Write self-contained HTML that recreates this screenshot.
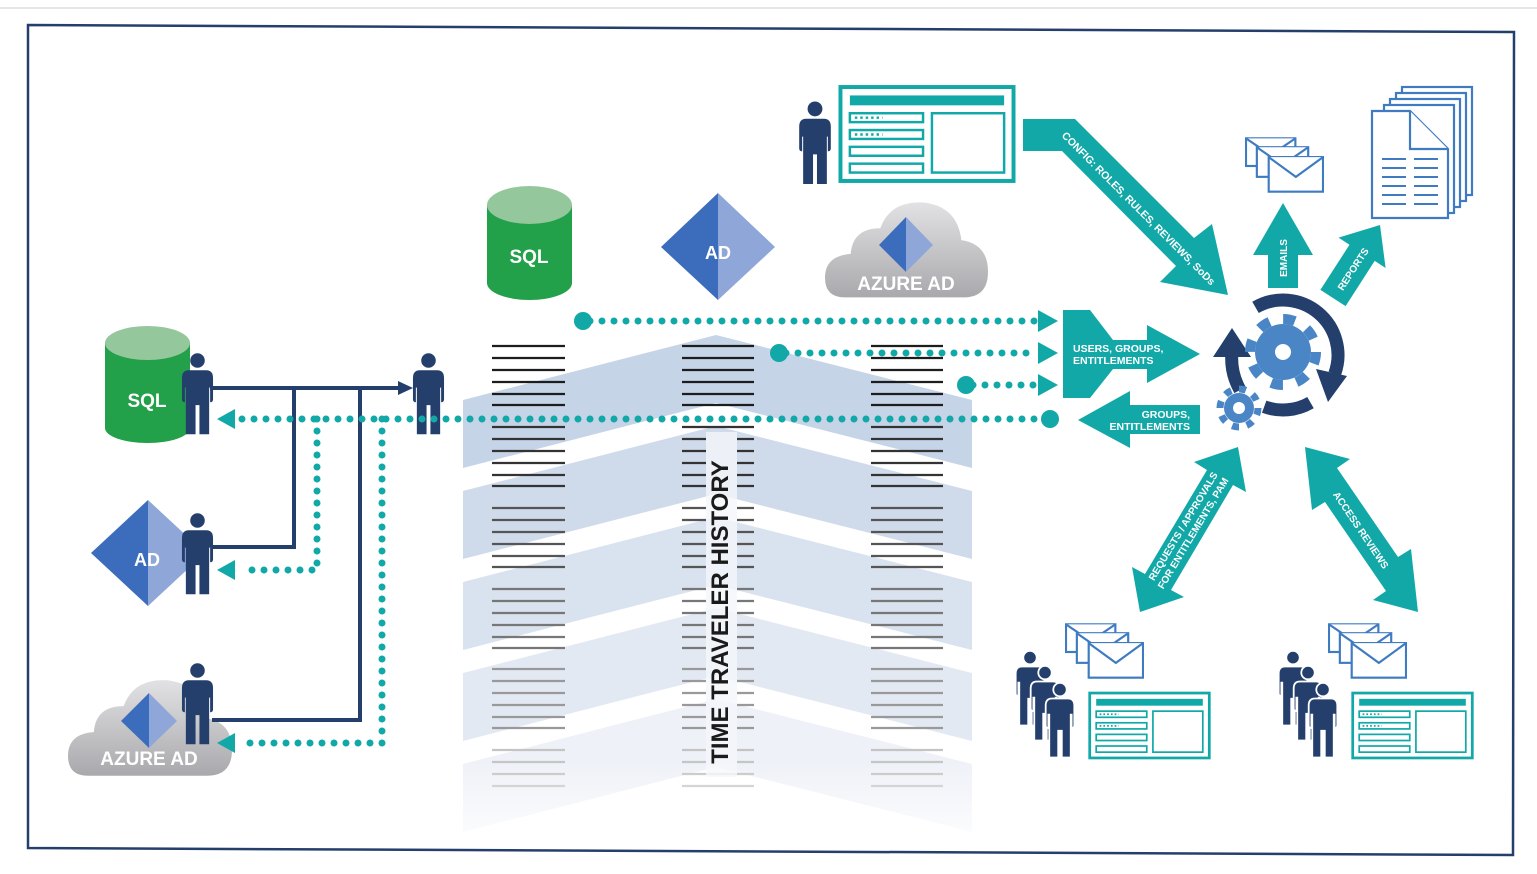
<!DOCTYPE html>
<html><head><meta charset="utf-8"><style>
html,body{margin:0;padding:0;background:#fff;}
svg{display:block;font-family:"Liberation Sans",sans-serif;}
</style></head><body>
<svg width="1537" height="874" viewBox="0 0 1537 874" xmlns="http://www.w3.org/2000/svg">
<defs>
<linearGradient id="cg" x1="0" y1="0" x2="0" y2="1"><stop offset="0" stop-color="#e2e2e4"/><stop offset="1" stop-color="#a9a9ad"/></linearGradient>
<linearGradient id="fade" x1="0" y1="0" x2="0" y2="1"><stop offset="0" stop-color="#fff" stop-opacity="0"/><stop offset="1" stop-color="#fff" stop-opacity="0.85"/></linearGradient>
<symbol id="person" viewBox="0 0 34 84">
<circle cx="17" cy="8" r="7.5" fill="#253f6d"/>
<path d="M8 18 H26 Q33 18 33 26 V48 Q33 51 30 51 V36 H29 V84 H19 V54 H15 V84 H5 V36 H4 V51 Q1 51 1 48 V26 Q1 18 8 18 Z" fill="#253f6d"/>
</symbol>
<symbol id="personw" viewBox="-2 -2 38 88">
<circle cx="17" cy="8" r="7.5" fill="#253f6d" stroke="#fff" stroke-width="2"/>
<path d="M8 18 H26 Q33 18 33 26 V48 Q33 51 30 51 V36 H29 V84 H19 V54 H15 V84 H5 V36 H4 V51 Q1 51 1 48 V26 Q1 18 8 18 Z" fill="#253f6d" stroke="#fff" stroke-width="2"/>
</symbol>
<symbol id="form" viewBox="0 0 180 100">
<rect x="2.5" y="2.5" width="175" height="95" fill="#fff" stroke="#12a8a8" stroke-width="4"/>
<rect x="12" y="11" width="156" height="10" fill="#12a8a8"/>
<g fill="none" stroke="#12a8a8" stroke-width="2.5">
<rect x="12" y="29" width="74" height="9"/><rect x="12" y="46" width="74" height="9"/><rect x="12" y="63" width="74" height="9"/><rect x="12" y="80" width="74" height="9"/>
<rect x="95" y="29" width="73" height="60"/></g>
<g stroke="#12a8a8" stroke-width="2.5" stroke-dasharray="2.5 3"><line x1="17" y1="33.5" x2="45" y2="33.5"/><line x1="17" y1="50.5" x2="45" y2="50.5"/></g>
</symbol>
<symbol id="env" viewBox="0 0 80 56">
<g fill="#fff" stroke="#3f7bc1" stroke-width="2.2">
<rect x="1" y="1" width="50" height="28"/><path d="M1 1 L26 18 L51 1"/>
<rect x="12" y="10" width="52" height="30"/><path d="M12 10 L38 28 L64 10"/>
<rect x="24" y="20" width="55" height="35"/><path d="M24 20 L51.5 40 L79 20"/>
</g></symbol>
<symbol id="cloud" viewBox="0 0 165 100">
<path d="M20 100 Q0 100 0 80 Q0 58 26 56 Q28 30 56 30 Q66 2 100 4 Q134 8 138 42 Q165 46 165 74 Q165 100 140 100 Z" fill="url(#cg)"/>
</symbol>
</defs>

<line x1="0" y1="8" x2="1537" y2="8" stroke="#ddd" stroke-width="1.5"/>
<path d="M28 25 L1514 32 L1513 855 L28 848 Z" fill="#fff" stroke="#253f6d" stroke-width="2.5"/>

<g>
<path d="M463 400 L716 335 L972 400 L972 468 L716 403 L463 468 Z" fill="#c6d4e8"/>
<path d="M463 491 L716 426 L972 491 L972 559 L716 494 L463 559 Z" fill="#cfdbeb"/>
<path d="M463 582 L716 517 L972 582 L972 650 L716 585 L463 650 Z" fill="#d9e2ef"/>
<path d="M463 673 L716 608 L972 673 L972 741 L716 676 L463 741 Z" fill="#e3e9f3"/>
<path d="M463 764 L716 699 L972 764 L972 832 L716 767 L463 832 Z" fill="#eef1f7"/>
</g>
<g stroke-width="2.2">
<g stroke="#1d1d1d"><path d="M492 346H565M492 358H565M492 370H565M492 382H565M492 394H565M492 405H565M682 346H754M682 358H754M682 370H754M682 382H754M682 394H754M682 405H754M871 346H943M871 358H943M871 370H943M871 382H943M871 394H943M871 405H943"/></g>
<g stroke="#333"><path d="M492 427H565M492 439H565M492 451H565M492 463H565M492 475H565M492 486H565M682 427H754M682 439H706M737 439H754M682 451H706M737 451H754M682 463H706M737 463H754M682 475H706M737 475H754M682 486H706M737 486H754M871 427H943M871 439H943M871 451H943M871 463H943M871 475H943M871 486H943"/></g>
<g stroke="#555"><path d="M492 508H565M492 520H565M492 532H565M492 544H565M492 556H565M492 567H565M682 508H706M737 508H754M682 520H706M737 520H754M682 532H706M737 532H754M682 544H706M737 544H754M682 556H706M737 556H754M682 567H706M737 567H754M871 508H943M871 520H943M871 532H943M871 544H943M871 556H943M871 567H943"/></g>
<g stroke="#777"><path d="M492 589H565M492 601H565M492 613H565M492 625H565M492 637H565M492 648H565M682 589H706M737 589H754M682 601H706M737 601H754M682 613H706M737 613H754M682 625H706M737 625H754M682 637H706M737 637H754M682 648H706M737 648H754M871 589H943M871 601H943M871 613H943M871 625H943M871 637H943M871 648H943"/></g>
<g stroke="#999"><path d="M492 669H565M492 681H565M492 693H565M492 705H565M492 717H565M492 728H565M682 669H706M737 669H754M682 681H706M737 681H754M682 693H706M737 693H754M682 705H706M737 705H754M682 717H706M737 717H754M682 728H706M737 728H754M871 669H943M871 681H943M871 693H943M871 705H943M871 717H943M871 728H943"/></g>
<g stroke="#c4c4c4"><path d="M492 750H565M492 762H565M492 774H565M492 786H565M682 750H706M737 750H754M682 762H706M737 762H754M682 774H754M682 786H754M871 750H943M871 762H943M871 774H943M871 786H943"/></g>
</g>
<rect x="706" y="432" width="31" height="345" fill="#f4f6fa" opacity="0.8"/>
<rect x="460" y="760" width="520" height="80" fill="url(#fade)"/>
<text transform="translate(728,612) rotate(-90)" text-anchor="middle" font-size="24" font-weight="bold" fill="#1a1a1a">TIME TRAVELER HISTORY</text>

<rect x="487" y="205" width="85" height="78" fill="#22a04a"/>
<ellipse cx="529.5" cy="283" rx="42.5" ry="17" fill="#22a04a"/>
<ellipse cx="529.5" cy="205" rx="42.5" ry="19" fill="#94c79b"/>
<text x="529" y="263" text-anchor="middle" font-size="19" font-weight="bold" fill="#fff">SQL</text>
<path d="M718 193 L661 247 L718 300 Z" fill="#3c6dbc"/><path d="M718 193 L775 247 L718 300 Z" fill="#8fa6d8"/>
<text x="718" y="259" text-anchor="middle" font-size="18" font-weight="bold" fill="#fff">AD</text>
<use href="#cloud" x="825" y="198" width="163" height="100"/>
<path d="M906 217 L879 245 L906 272 Z" fill="#3c6dbc"/><path d="M906 217 L933 245 L906 272 Z" fill="#8fa6d8"/>
<text x="906" y="290" text-anchor="middle" font-size="19" font-weight="bold" fill="#fff">AZURE AD</text>

<rect x="105" y="342" width="85" height="86" fill="#22a04a"/>
<ellipse cx="147.5" cy="428" rx="42.5" ry="15" fill="#22a04a"/>
<ellipse cx="147.5" cy="343" rx="42.5" ry="17" fill="#94c79b"/>
<text x="147" y="407" text-anchor="middle" font-size="19" font-weight="bold" fill="#fff">SQL</text>
<path d="M148 500 L91 553 L148 606 Z" fill="#3c6dbc"/><path d="M148 500 L205 553 L148 606 Z" fill="#8fa6d8"/>
<text x="147" y="566" text-anchor="middle" font-size="18" font-weight="bold" fill="#fff">AD</text>
<use href="#cloud" x="68" y="676" width="164" height="100"/>
<path d="M149 693 L121 721 L149 748 Z" fill="#3c6dbc"/><path d="M149 693 L177 721 L149 748 Z" fill="#8fa6d8"/>
<text x="149" y="765" text-anchor="middle" font-size="19" font-weight="bold" fill="#fff">AZURE AD</text>

<g stroke="#253f6d" stroke-width="4" fill="none">
<path d="M210 388 H400"/><path d="M294 388 V547 H212"/><path d="M360 388 V720 H212"/>
</g>
<path d="M398 381 L413 388 L398 395 Z" fill="#253f6d"/>
<use href="#person" x="181" y="352" width="33" height="83"/>
<use href="#person" x="181" y="512" width="33" height="83"/>
<use href="#person" x="181" y="662" width="33" height="83"/>
<use href="#person" x="412" y="352" width="33" height="83"/>

<g stroke="#12a8a8" stroke-width="7" stroke-linecap="round" stroke-dasharray="0 12" fill="none">
<path d="M1046 419 H240"/><path d="M317 419 V570 H240"/><path d="M382 419 V743 H240"/>
<path d="M590 321 H1036"/><path d="M786 353 H1036"/><path d="M973 385 H1036"/>
</g>
<g fill="#12a8a8">
<circle cx="1050" cy="419" r="9"/><circle cx="583" cy="321" r="9"/><circle cx="779" cy="353" r="9"/><circle cx="966" cy="385" r="9"/>
<path d="M217 419 L235 409 L235 429 Z"/><path d="M217 570 L235 560 L235 580 Z"/><path d="M217 743 L235 733 L235 753 Z"/>
<path d="M1038 310 L1058 321 L1038 332 Z"/><path d="M1038 342 L1058 353 L1038 364 Z"/><path d="M1038 374 L1058 385 L1038 396 Z"/>
<path d="M1063 310 L1090 310 L1113 340 L1147 340 L1147 325 L1200 354 L1147 383 L1147 369 L1113 369 L1090 398 L1063 398 Z"/>
<path d="M1200 405 L1200 434 L1130 434 L1130 448 L1078 420 L1130 391 L1130 405 Z"/>
<path d="M1023 119 L1075 119 L1194 238 L1212 224 L1228 295 L1160 282 L1176 266 L1062 151 L1023 151 Z"/>
<path d="M1268 288 L1268 255 L1253 255 L1283 203 L1313 255 L1298 255 L1298 288 Z"/>
<path d="M1320.4 289.9 L1349.5 244.7 L1338.5 237.6 L1380 225 L1385.6 268 L1374.7 260.9 L1345.6 306.1 Z"/>
<path d="M1238 447 L1246 492 L1233 485 L1171 590 L1184 597 L1140 612 L1132 567 L1145 574 L1207 470 L1194 462 Z"/>
<path d="M1305 447 L1350 459 L1337 468 L1398 557 L1411 549 L1418 612 L1373 600 L1386 591 L1325 502 L1312 510 Z"/>
</g>
<g fill="#fff" font-weight="bold">
<text x="1073" y="352" font-size="10.5">USERS, GROUPS,</text>
<text x="1073" y="364" font-size="10.5">ENTITLEMENTS</text>
<text x="1190" y="418" font-size="10.5" text-anchor="end">GROUPS,</text>
<text x="1190" y="430" font-size="10.5" text-anchor="end">ENTITLEMENTS</text>
<text transform="translate(1136,211) rotate(45)" font-size="10.5" text-anchor="middle">CONFIG: ROLES, RULES, REVIEWS, SoDs</text>
<text transform="translate(1287,258) rotate(-90)" font-size="10" text-anchor="middle">EMAILS</text>
<text transform="translate(1356,271) rotate(-57)" font-size="10" text-anchor="middle">REPORTS</text>
<text transform="translate(1186,528) rotate(-59)" font-size="10" text-anchor="middle">REQUESTS / APPROVALS</text>
<text transform="translate(1196,535) rotate(-59)" font-size="10" text-anchor="middle">FOR ENTITLEMENTS, PAM</text>
<text transform="translate(1358,532) rotate(56)" font-size="10" text-anchor="middle">ACCESS REVIEWS</text>
</g>

<g fill="none" stroke="#253f6d" stroke-width="13">
<path d="M1255.5 307.4 A55 55 0 0 1 1334.7 373.8"/>
<path d="M1310.5 402.6 A55 55 0 0 1 1264.2 406.7"/>
<path d="M1240 390 Q1230 372 1232 352"/>
</g>
<path d="M1347 376 L1328 402 L1316 369 Z" fill="#253f6d"/>
<path d="M1213 357 L1232 328 L1251 357 Z" fill="#253f6d"/>
<circle cx="1283" cy="352" r="28" fill="#4a86c5"/>
<circle cx="1283" cy="352" r="33" fill="none" stroke="#4a86c5" stroke-width="10" stroke-dasharray="12 13.9"/>
<circle cx="1283" cy="352" r="8" fill="#fff"/>
<circle cx="1239" cy="408" r="15" fill="#4a86c5"/>
<circle cx="1239" cy="408" r="19" fill="none" stroke="#4a86c5" stroke-width="7" stroke-dasharray="7 7.9"/>
<circle cx="1239" cy="408" r="6" fill="#fff"/>

<use href="#env" x="1245" y="137" width="79" height="56"/>
<g fill="#fff" stroke="#3f7bc1" stroke-width="2.2">
<rect x="1402" y="87" width="70" height="108"/><rect x="1396" y="93" width="70" height="108"/><rect x="1390" y="99" width="70" height="108"/><rect x="1384" y="105" width="70" height="108"/>
<path d="M1372 111 H1410 L1448 149 V218 H1372 Z"/><path d="M1410 111 V149 H1448"/>
</g>
<g stroke="#3f7bc1" stroke-width="2"><path d="M1382 159H1406M1414 159H1438M1382 168H1406M1414 168H1438M1382 177H1406M1414 177H1438M1382 186H1406M1414 186H1438M1382 195H1406M1414 195H1438M1382 204H1406M1414 204H1438"/></g>

<use href="#person" x="798" y="101" width="34" height="83"/>
<use href="#form" x="838" y="84" width="178" height="100"/>

<use href="#env" x="1065" y="623" width="79" height="56"/>
<use href="#personw" x="1013" y="648" width="34" height="80"/>
<use href="#personw" x="1028" y="663" width="34" height="80"/>
<use href="#personw" x="1043" y="678" width="34" height="84"/>
<use href="#form" x="1088" y="690" width="123" height="71"/>
<use href="#env" x="1328" y="623" width="79" height="56"/>
<use href="#personw" x="1276" y="648" width="34" height="80"/>
<use href="#personw" x="1291" y="663" width="34" height="80"/>
<use href="#personw" x="1306" y="678" width="34" height="84"/>
<use href="#form" x="1351" y="690" width="123" height="71"/>
</svg>
</body></html>
